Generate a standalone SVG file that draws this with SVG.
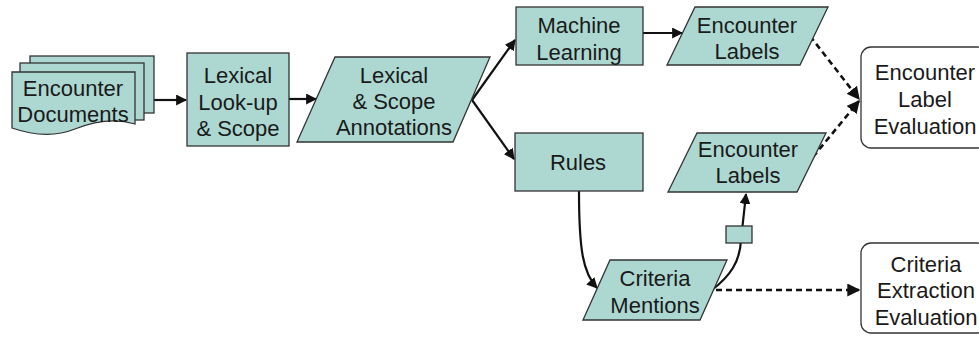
<svg xmlns="http://www.w3.org/2000/svg" width="979" height="337" viewBox="0 0 979 337">
  <style>
    .node { fill: #acd8d1; stroke: #333; stroke-width: 1.3; }
    .eval { fill: #fff; stroke: #333; stroke-width: 1.3; }
    .lbl { font-family: "Liberation Sans", Arial, sans-serif; font-size: 22px; fill: #1a1a1a; text-anchor: middle; }
    .edge { fill: none; stroke: #111; stroke-width: 2.2; }
    .dash { fill: none; stroke: #111; stroke-width: 2.6; stroke-dasharray: 6 4; }
  </style>
  <defs>
    <marker id="arrow" viewBox="0 0 10 10" refX="9" refY="5" markerWidth="5" markerHeight="5" orient="auto" markerUnits="strokeWidth">
      <path d="M0,0 L10,5 L0,10 z" fill="#111"/>
    </marker>
  </defs>

  <!-- Connectors -->
  <g id="connectors">
    <line class="edge" x1="154" y1="100" x2="186" y2="100" marker-end="url(#arrow)"/>
    <line class="edge" x1="289" y1="99" x2="316" y2="99" marker-end="url(#arrow)"/>
    <line class="edge" x1="472" y1="100" x2="515" y2="40" marker-end="url(#arrow)"/>
    <line class="edge" x1="472" y1="100" x2="514" y2="159" marker-end="url(#arrow)"/>
    <line class="edge" x1="643" y1="33" x2="682" y2="33" marker-end="url(#arrow)"/>
    <line class="dash" x1="810" y1="36" x2="859" y2="99" marker-end="url(#arrow)"/>
    <line class="dash" x1="813" y1="157" x2="859" y2="101" marker-end="url(#arrow)"/>
    <path class="edge" d="M579,191 C579,250 583,273 597,288" marker-end="url(#arrow)"/>
    <path class="edge" d="M712,290 C730,276 740,262 741,240 L746,194" marker-end="url(#arrow)"/>
    <line class="dash" x1="716" y1="290" x2="859" y2="290" marker-end="url(#arrow)"/>
    <rect class="node" x="726" y="226" width="26" height="17"/>
  </g>

  <!-- Encounter Documents (stacked documents) -->
  <g id="encounter-documents">
    <rect class="node" x="30" y="56" width="124" height="57"/>
    <rect class="node" x="20" y="63" width="124" height="57"/>
    <path class="node" d="M12,72 H135 V124 C115,118 95,121 75,129 C55,137 35,136 12,128 Z"/>
    <text class="lbl" x="73" y="96">Encounter</text>
    <text class="lbl" x="73" y="122">Documents</text>
  </g>

  <g id="lexical-lookup">
    <rect class="node" x="187" y="53" width="102" height="93"/>
    <text class="lbl" x="238" y="83">Lexical</text>
    <text class="lbl" x="238" y="109.5">Look-up</text>
    <text class="lbl" x="238" y="136">&amp; Scope</text>
  </g>

  <g id="annotations">
    <polygon class="node" points="335,57 490,57 453,142 297,142"/>
    <text class="lbl" x="394" y="83">Lexical</text>
    <text class="lbl" x="394" y="109">&amp; Scope</text>
    <text class="lbl" x="394" y="135">Annotations</text>
  </g>

  <g id="machine-learning">
    <rect class="node" x="516" y="7" width="127" height="58"/>
    <text class="lbl" x="579" y="33">Machine</text>
    <text class="lbl" x="579" y="60">Learning</text>
  </g>

  <g id="rules">
    <rect class="node" x="515" y="133" width="128" height="58"/>
    <text class="lbl" x="578" y="170">Rules</text>
  </g>

  <g id="encounter-labels-ml">
    <polygon class="node" points="695,7 828,7 800,65 667,65"/>
    <text class="lbl" x="747" y="33">Encounter</text>
    <text class="lbl" x="747" y="59">Labels</text>
  </g>

  <g id="encounter-labels-rules">
    <polygon class="node" points="697,133 826,133 797,192 668,192"/>
    <text class="lbl" x="748" y="157">Encounter</text>
    <text class="lbl" x="748" y="183">Labels</text>
  </g>

  <g id="criteria-mentions">
    <polygon class="node" points="610,260 727,260 700,320 583,320"/>
    <text class="lbl" x="655" y="286">Criteria</text>
    <text class="lbl" x="655" y="313">Mentions</text>
  </g>

  <g id="encounter-label-evaluation">
    <rect class="eval" x="861" y="47" width="126" height="101" rx="10"/>
    <text class="lbl" x="925" y="80">Encounter</text>
    <text class="lbl" x="925" y="107">Label</text>
    <text class="lbl" x="925" y="134">Evaluation</text>
  </g>

  <g id="criteria-extraction-evaluation">
    <rect class="eval" x="861" y="243" width="126" height="90" rx="10"/>
    <text class="lbl" x="926" y="272">Criteria</text>
    <text class="lbl" x="926" y="298">Extraction</text>
    <text class="lbl" x="926" y="325">Evaluation</text>
  </g>
</svg>
